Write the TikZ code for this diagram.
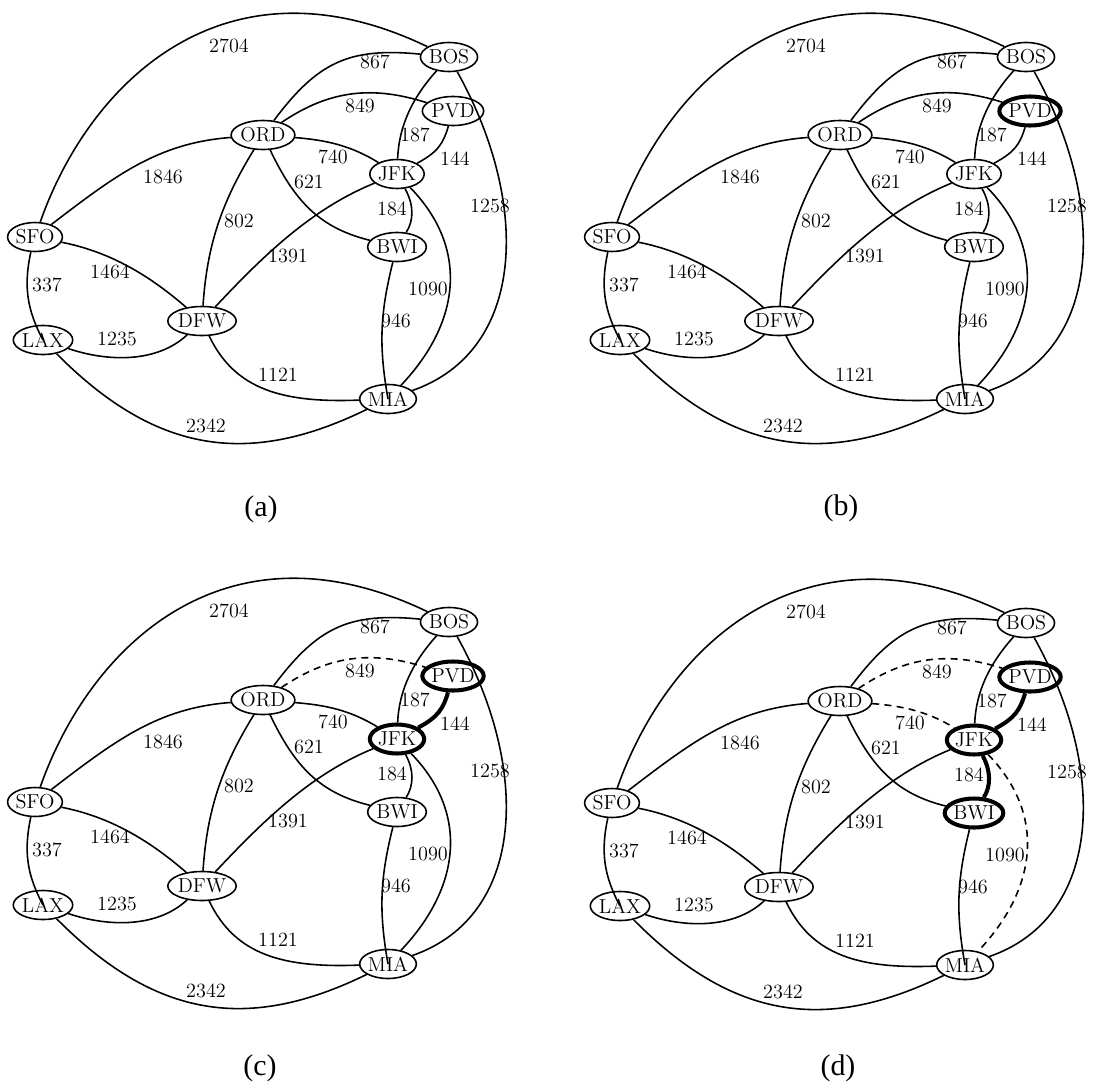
\documentclass[tikz,border=0pt]{standalone}
\usepackage{fontspec}
\newfontfamily\capfont{Liberation Serif}
\usetikzlibrary{shapes.geometric}

\tikzset{
  city/.style={draw,ellipse,line width=0.9pt,minimum width=10.8mm,minimum height=5.8mm,inner sep=0pt,font=\fontsize{11.5}{13}\selectfont},
  dist/.style={inner sep=1pt,font=\fontsize{11.5}{13}\selectfont},
  route/.style={line width=0.9pt},
  picked/.style={line width=2.3pt},
  skipped/.style={dash pattern=on 4pt off 3pt},
  panel/.style={font=\capfont\fontsize{17}{20}\selectfont},
  pvd/.style={}, jfk/.style={}, bwi/.style={},
  e144/.style={}, e184/.style={}, e849/.style={}, e740/.style={}, e1090/.style={}
}

% one copy of the airport graph
\newcommand{\flightmap}{%
  \node[city] (SFO) at (35,-237) {SFO};
  \node[city] (LAX) at (43,-340) {LAX};
  \node[city] (DFW) at (202,-321) {DFW};
  \node[city] (ORD) at (263,-135) {ORD};
  \node[city] (BOS) at (449,-57) {BOS};
  \node[city,pvd] (PVD) at (453,-111) {PVD};
  \node[city,jfk] (JFK) at (397,-174) {JFK};
  \node[city,bwi] (BWI) at (397,-247) {BWI};
  \node[city] (MIA) at (388,-399) {MIA};
  \draw[route] (SFO) .. controls +(54,154) and +(-225,108) .. (BOS);
  \draw[route] (ORD) .. controls +(54,72) and +(-101,10) .. (BOS);
  \draw[route,e849] (ORD) .. controls +(68,46) and +(-79,25) .. (PVD);
  \draw[route,e740] (ORD) .. controls +(62,-5) and +(-47,29) .. (JFK);
  \draw[route] (ORD) .. controls +(32,-67) and +(-77,19) .. (BWI);
  \draw[route] (SFO) .. controls +(81,62) and +(-105,-8) .. (ORD);
  \draw[route] (ORD) .. controls +(-42,-68) and +(5,75) .. (DFW);
  \draw[route] (DFW) .. controls +(61,65) and +(-86,-35) .. (JFK);
  \draw[route] (SFO) .. controls +(76,-15) and +(-52,45) .. (DFW);
  \draw[route] (SFO) to[bend right=20] (LAX);
  \draw[route] (LAX) .. controls +(65,-22) and +(-45,-42) .. (DFW);
  \draw[route] (LAX) .. controls +(113,-114) and +(-139,-68) .. (MIA);
  \draw[route] (DFW) .. controls +(33,-69) and +(-105,-4) .. (MIA);
  \draw[route] (JFK) .. controls +(2,49) and +(-36,-40) .. (BOS);
  \draw[route,e144] (JFK) .. controls +(41,22) and +(-10,-33) .. (PVD);
  \draw[route,e184] (JFK) .. controls +(17,-31) and +(17,27) .. (BWI);
  \draw[route,e1090] (JFK) .. controls +(72,-74) and +(73,77) .. (MIA);
  \draw[route] (BWI) to[bend right=12] (MIA);
  \draw[route] (BOS) .. controls +(82,-147) and +(138,48) .. (MIA);
  \node[dist] (l2704) at (229,-46) {2704};
  \node[dist] (l867) at (375,-62) {867};
  \node[dist] (l849) at (360,-106) {849};
  \node[dist] (l187) at (415,-135) {187};
  \node[dist] (l144) at (455,-159) {144};
  \node[dist] (l740) at (333,-157) {740};
  \node[dist] (l621) at (309,-182) {621};
  \node[dist] (l1846) at (163,-177) {1846};
  \node[dist] (l184) at (392,-209) {184};
  \node[dist] (l1258) at (490,-206) {1258};
  \node[dist] (l802) at (239,-221) {802};
  \node[dist] (l1391) at (288,-256) {1391};
  \node[dist] (l1464) at (110,-272) {1464};
  \node[dist] (l337) at (47,-285) {337};
  \node[dist] (l1090) at (428,-289) {1090};
  \node[dist] (l946) at (396,-321) {946};
  \node[dist] (l1235) at (117,-339) {1235};
  \node[dist] (l1121) at (278,-375) {1121};
  \node[dist] (l2342) at (206,-426) {2342};
}

\begin{document}
\begin{tikzpicture}[x=0.2mm,y=0.2mm]
\useasboundingbox (0,0) rectangle (1094,-1091);

\begin{scope}[name prefix=a-]
  \flightmap
\end{scope}
\begin{scope}[name prefix=b-,shift={(577,0)},pvd/.style={picked}]
  \flightmap
\end{scope}
\begin{scope}[name prefix=c-,shift={(0,-565)},pvd/.style={picked},jfk/.style={picked},
    e144/.style={picked},e849/.style={skipped}]
  \flightmap
\end{scope}
\begin{scope}[name prefix=d-,shift={(577,-566)},pvd/.style={picked},jfk/.style={picked},bwi/.style={picked},
    e144/.style={picked},e184/.style={picked},e849/.style={skipped},e740/.style={skipped},e1090/.style={skipped}]
  \flightmap
\end{scope}

\node[panel] (cap-a) at (261,-509) {(a)};
\node[panel] (cap-b) at (841,-508) {(b)};
\node[panel] (cap-c) at (260,-1068) {(c)};
\node[panel] (cap-d) at (838,-1068) {(d)};
\end{tikzpicture}
\end{document}
